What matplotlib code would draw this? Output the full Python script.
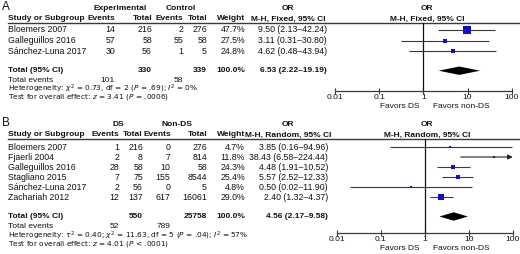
import matplotlib
matplotlib.use("Agg")
import matplotlib.pyplot as plt
import numpy as np

plt.rcParams['font.family'] = ['Liberation Sans', 'DejaVu Sans']
plt.rcParams['mathtext.fontset'] = 'dejavusans'

# ---------------- data ----------------
a_studies = ["Bloemers 2007", "Galleguillos 2016", "Sánchez-Luna 2017"]
a_exp_events = [14, 57, 30]
a_exp_total = [216, 58, 56]
a_ctl_events = [2, 55, 1]
a_ctl_total = [276, 58, 5]
a_weight = [47.7, 27.5, 24.8]
a_or = [9.50, 3.11, 4.62]
a_lo = [2.13, 0.31, 0.48]
a_hi = [42.24, 30.80, 43.94]
a_total = ["330", "339", "100.0%"]
a_pooled = [6.53, 2.22, 19.19]
a_total_events = ["101", "58"]

b_studies = ["Bloemers 2007", "Fjaerli 2004", "Galleguillos 2016", "Stagliano 2015",
             "Sánchez-Luna 2017", "Zachariah 2012"]
b_ds_events = [1, 2, 28, 7, 2, 12]
b_ds_total = [216, 8, 58, 75, 56, 137]
b_non_events = [0, 7, 10, 155, 0, 617]
b_non_total = [276, 814, 58, 8544, 5, 16061]
b_weight = [4.7, 11.8, 24.3, 25.4, 4.8, 29.0]
b_or = [3.85, 38.43, 4.48, 5.57, 0.50, 2.40]
b_lo = [0.16, 6.58, 1.91, 2.52, 0.02, 1.32]
b_hi = [94.96, 224.44, 10.52, 12.33, 11.90, 4.37]
b_total = ["550", "25758", "100.0%"]
b_pooled = [4.56, 2.17, 9.58]
b_total_events = ["52", "789"]

ticks = [0.01, 0.1, 1, 10, 100]
tick_labels = ["0.01", "0.1", "1", "10", "100"]

W, H = 520, 254
fig = plt.figure(figsize=(W / 100, H / 100), dpi=100)
bg = fig.add_axes([0, 0, 1, 1])
bg.set_xlim(0, W)
bg.set_ylim(H, 0)
bg.axis('off')

FS = 6.3      # regular text
FSB = 6.0     # bold text
TXT = '#111111'
LINE = '#3a3a3a'
BLUE = '#1010c0'


def t(x, y, s, ha='left', bold=False, size=None, family=None):
    if size is None:
        size = FSB if bold else FS
    kw = {}
    if family is not None:
        kw['family'] = family
    bg.text(x, y, s, ha=ha, va='center', fontsize=size,
            fontweight='bold' if bold else 'normal', color=TXT, **kw)


def rect(x0, y0, x1, y1):
    return [x0 / W, 1 - y1 / H, (x1 - x0) / W, (y1 - y0) / H]


def fmt_ci(o, l, h):
    return f"{o:.2f} ({l:.2f}\u2013{h:.2f})"


def panel(letter, grp1, grp2, method, ytop, cols, hcols, or_right, or_center,
          studies, e1, n1, e2, n2, wt, orv, lo, hi, totals, pooled, tot_ev,
          het, test, row_y, total_y, tev_y, het_y, test_y, axis_y, ax_x, ksize,
          grp_centers):
    hdr_y = ytop + 11
    line_y = ytop + 14.7
    t(2, ytop - 0.5, letter, size=8.5)
    t(grp_centers[0], ytop, grp1, ha='center', bold=True)
    t(grp_centers[1], ytop, grp2, ha='center', bold=True)
    t(or_center, ytop, "OR", ha='center', bold=True)
    t(ax_x[2], ytop, "OR", ha='center', bold=True)
    t(8, hdr_y, "Study or Subgroup", bold=True)
    for x, s in zip(hcols, ["Events", "Total", "Events", "Total", "Weight"]):
        t(x, hdr_y, s, ha='right', bold=True)
    t(or_center, hdr_y, method, ha='center', bold=True)
    t(ax_x[2], hdr_y, method, ha='center', bold=True)
    bg.plot([8, W], [line_y, line_y], color=LINE, lw=1.0)

    for i, s in enumerate(studies):
        y = row_y[i]
        t(8, y, s)
        for x, v in zip(cols, [str(e1[i]), str(n1[i]), str(e2[i]), str(n2[i]),
                               f"{wt[i]:.1f}%"]):
            t(x, y, v, ha='right')
        t(or_right, y, fmt_ci(orv[i], lo[i], hi[i]), ha='right')

    t(8, total_y, "Total (95% CI)", bold=True)
    t(cols[1], total_y, totals[0], ha='right', bold=True)
    t(cols[3], total_y, totals[1], ha='right', bold=True)
    t(cols[4], total_y, totals[2], ha='right', bold=True)
    t(or_right, total_y, fmt_ci(*pooled), ha='right', bold=True)
    t(8, tev_y, "Total events", size=6.0)
    t(cols[0], tev_y, tot_ev[0], ha='right', size=6.0)
    t(cols[2], tev_y, tot_ev[1], ha='right', size=6.0)
    t(8, het_y, het, size=5.3, family='DejaVu Sans')
    t(8, test_y, test, size=5.3, family='DejaVu Sans')

    ax = fig.add_axes(rect(ax_x[0], line_y, ax_x[1], axis_y))
    ax.set_xscale('log')
    ax.set_xlim(0.01, 100)
    ax.set_ylim(axis_y, line_y)
    ax.patch.set_alpha(0)
    for sp in ['top', 'right', 'left']:
        ax.spines[sp].set_visible(False)
    ax.spines['bottom'].set_color(LINE)
    ax.spines['bottom'].set_linewidth(0.9)
    ax.set_yticks([])
    ax.set_xticks(ticks)
    ax.set_xticklabels(tick_labels)
    ax.minorticks_off()
    ax.tick_params(axis='x', direction='inout', length=4, width=0.8,
                   labelsize=6.0, pad=0.5, colors=LINE, labelcolor=TXT)
    ax.axvline(1, color='#111111', lw=0.9)

    for i in range(len(studies)):
        y = row_y[i]
        l = max(lo[i], 0.01)
        h = min(hi[i], 100)
        if hi[i] > 100:
            ax.annotate('', xy=(100, y), xytext=(l, y),
                        arrowprops=dict(arrowstyle='-|>', lw=0.8, color='#222222',
                                        mutation_scale=7, shrinkA=0, shrinkB=0))
        else:
            ax.plot([l, h], [y, y], color=LINE, lw=0.8, solid_capstyle='butt')
        side = max(wt[i] * ksize, 2.0)
        ax.plot([orv[i]], [y], marker='s', ms=side * 0.72, color=BLUE,
                mec=BLUE, mew=0, linestyle='none')
    est, plo, phi = pooled
    dh = 4.2
    ax.fill([plo, est, phi, est], [total_y, total_y - dh, total_y, total_y + dh],
            color='black', lw=0)

    t(419, axis_y + 16, "Favors DS", ha='right', size=6.0)
    t(433, axis_y + 16, "Favors non-DS", ha='left', size=6.0)


panel("A", "Experimental", "Control", "M-H, Fixed, 95% CI", 8,
      [115, 152, 183, 207, 245], [115, 152, 183, 207, 245], 327, 288,
      a_studies, a_exp_events, a_exp_total, a_ctl_events, a_ctl_total, a_weight,
      a_or, a_lo, a_hi, a_total, a_pooled, a_total_events,
      r"Heterogeneity: $\chi^2$ = 0.73, df = 2 ($P$ = .69); $I^2$ = 0%",
      r"Test for overall effect: $z$ = 3.41 ($P$ = .0006)",
      [29.5, 40.5, 51], 70.7, 81, 89, 97.3, 90.5, (335, 511.7, 427), 0.147,
      (120, 181))

panel("B", "DS", "Non-DS", "M-H, Random, 95% CI", 124,
      [119, 143, 170, 207, 245], [119, 142, 171, 207, 245], 328, 288,
      b_studies, b_ds_events, b_ds_total, b_non_events, b_non_total, b_weight,
      b_or, b_lo, b_hi, b_total, b_pooled, b_total_events,
      r"Heterogeneity: $\tau^2$ = 0.40; $\chi^2$ = 11.63, df = 5 ($P$ = .04); $I^2$ = 57%",
      r"Test for overall effect: $z$ = 4.01 ($P$ < .0001)",
      [147, 157, 167, 177, 187, 197], 216.5, 227, 235.5, 244, 233,
      (336.7, 512.7, 427), 0.19, (118, 177))

fig.savefig("out.png", dpi=100)
